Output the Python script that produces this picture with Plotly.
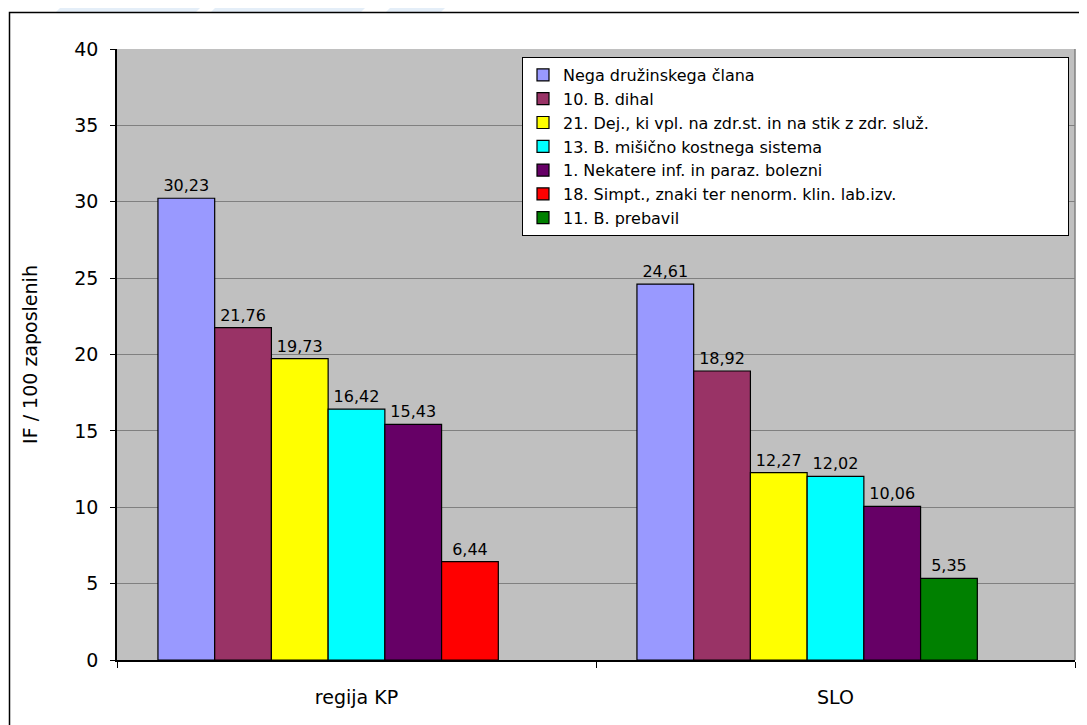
import plotly.graph_objects as go

categories = ["regija KP", "SLO"]

series_names = [
    "Nega družinskega člana",
    "10. B. dihal",
    "21. Dej., ki vpl. na zdr.st. in na stik z zdr. služ.",
    "13. B. mišično kostnega sistema",
    "1. Nekatere inf. in paraz. bolezni",
    "18. Simpt., znaki ter nenorm. klin. lab.izv.",
    "11. B. prebavil",
]
series_values = [
    [30.23, 24.61],
    [21.76, 18.92],
    [19.73, 12.27],
    [16.42, 12.02],
    [15.43, 10.06],
    [6.44, None],
    [None, 5.35],
]
series_colors = ["#9999FF", "#993366", "#FFFF00", "#00FFFF", "#660066", "#FF0000", "#008000"]
# red and green share the sixth slot; a seventh empty slot stays free
slot_groups = ["0", "1", "2", "3", "4", "5", "5"]

y_ticks = [0, 5, 10, 15, 20, 25, 30, 35, 40]

FONT = "DejaVu Sans"

# the page body adds an 8px offset, so the figure is 8px smaller
W, H = 1079, 717
ML, MR, MT, MB = 109, 12, 41, 65
PW, PH = W - ML - MR, H - MT - MB   # plot area size (958 x 611)


def px_x(p):
    """page x pixel -> paper coordinate"""
    return (p - 8 - ML) / PW


def px_y(p):
    """page y pixel -> paper coordinate"""
    return (H - MB + 8 - p) / PH


def fmt(v):
    return "" if v is None else f"{v:.2f}".replace(".", ",")


fig = go.Figure()
for name, vals, color, grp in zip(series_names, series_values, series_colors, slot_groups):
    fig.add_trace(go.Bar(
        name=name,
        x=categories,
        y=vals,
        offsetgroup=grp,
        marker=dict(color=color, line=dict(color="black", width=1.2)),
        text=[fmt(v) for v in vals],
        textposition="outside",
        textfont=dict(family=FONT, size=16, color="black"),
        cliponaxis=False,
    ))

# empty seventh slot
fig.add_trace(go.Bar(
    x=categories, y=[0, 0], offsetgroup="6", showlegend=False,
    marker=dict(color="rgba(0,0,0,0)", line=dict(width=0)), hoverinfo="skip",
))

# faint background decoration above the frame
for x0, x1 in [(60, 200), (215, 365), (390, 445)]:
    fig.add_shape(
        type="path",
        xref="paper", yref="paper",
        path=(f"M {px_x(x0)},{px_y(8)} L {px_x(x1)},{px_y(8)} "
              f"L {px_x(x1 - 4)},{px_y(12)} L {px_x(x0 - 4)},{px_y(12)} Z"),
        fillcolor="#E4EEF8", line=dict(width=0), layer="below",
    )

# outer chart frame
fig.add_shape(
    type="rect", xref="paper", yref="paper",
    x0=px_x(9.5), x1=px_x(1100),
    y0=px_y(740), y1=px_y(12.5),
    line=dict(color="black", width=1.5), fillcolor="rgba(0,0,0,0)",
)
# right edge of plot area
fig.add_shape(
    type="line", xref="paper", yref="paper",
    x0=1, x1=1, y0=0, y1=1, line=dict(color="#808080", width=1.5),
)

fig.update_layout(
    width=W,
    height=H,
    margin=dict(l=ML, r=MR, t=MT, b=MB),
    paper_bgcolor="white",
    plot_bgcolor="#C0C0C0",
    barmode="group",
    bargap=0.171,
    bargroupgap=0,
    font=dict(family=FONT, color="black"),
    showlegend=True,
    legend=dict(
        orientation="h",
        entrywidth=500, entrywidthmode="pixels",
        x=px_x(522), y=px_y(57), xanchor="left", yanchor="top",
        bgcolor="white", bordercolor="black", borderwidth=1,
        font=dict(family=FONT, size=16, color="black"),
        tracegroupgap=0, itemwidth=30,
    ),
)

fig.update_yaxes(
    range=[0, 40],
    tickvals=y_ticks,
    ticks="outside", ticklen=5, tickcolor="black",
    ticklabelstandoff=8,
    tickfont=dict(family=FONT, size=19, color="black"),
    showgrid=True, gridcolor="#808080", gridwidth=1,
    showline=True, linecolor="black", linewidth=1.5,
    zeroline=False,
    title=dict(text="IF / 100 zaposlenih", font=dict(family=FONT, size=19, color="black"), standoff=32),
)
fig.update_xaxes(
    type="category",
    tickson="boundaries",
    ticks="outside", ticklen=6, tickcolor="black",
    ticklabelstandoff=19,
    tickfont=dict(family=FONT, size=19, color="black"),
    showline=True, linecolor="black", linewidth=1.5,
    showgrid=False,
)

fig.write_html("out.html")
